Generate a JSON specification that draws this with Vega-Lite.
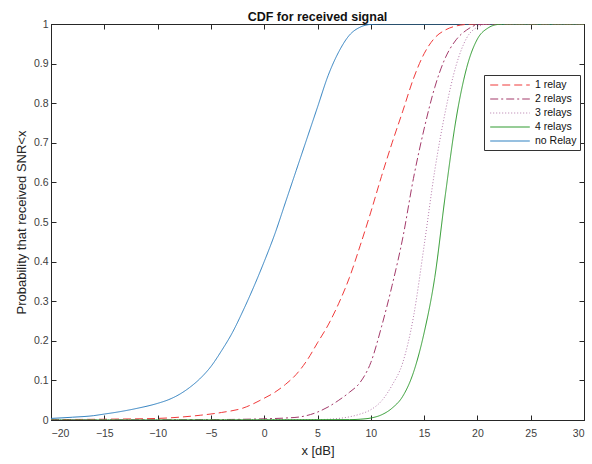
{
  "$schema": "https://vega.github.io/schema/vega-lite/v6.json",
  "width": 533,
  "height": 396,
  "autosize": {"type": "none"},
  "padding": {"left": 51, "top": 24, "right": 8, "bottom": 44},
  "background": "white",
  "title": {"text": "CDF for received signal", "fontSize": 12.5, "fontWeight": "bold", "font": "Liberation Sans", "color": "#111111", "offset": -4},
  "config": {
    "view": {"stroke": "#262626", "strokeWidth": 1},
    "axis": {"labelFont": "Liberation Sans", "titleFont": "Liberation Sans", "labelFontSize": 10.5, "titleFontSize": 13, "titleFontWeight": "normal", "labelColor": "#404040", "titleColor": "#262626", "domainColor": "#262626", "tickColor": "#262626", "grid": false}
  },
  "data": {"values": [
    {"s": "no Relay", "x": -20, "p": 0.004}, {"s": "no Relay", "x": -18, "p": 0.007}, {"s": "no Relay", "x": -16, "p": 0.011}, {"s": "no Relay", "x": -15, "p": 0.015}, {"s": "no Relay", "x": -14, "p": 0.019}, {"s": "no Relay", "x": -12, "p": 0.029}, {"s": "no Relay", "x": -10, "p": 0.042}, {"s": "no Relay", "x": -9, "p": 0.051}, {"s": "no Relay", "x": -8, "p": 0.064}, {"s": "no Relay", "x": -7, "p": 0.082}, {"s": "no Relay", "x": -6, "p": 0.105}, {"s": "no Relay", "x": -5, "p": 0.135}, {"s": "no Relay", "x": -4, "p": 0.175}, {"s": "no Relay", "x": -3, "p": 0.22}, {"s": "no Relay", "x": -2, "p": 0.275}, {"s": "no Relay", "x": -1, "p": 0.335}, {"s": "no Relay", "x": 0, "p": 0.4}, {"s": "no Relay", "x": 1, "p": 0.47}, {"s": "no Relay", "x": 2, "p": 0.55}, {"s": "no Relay", "x": 3, "p": 0.63}, {"s": "no Relay", "x": 4, "p": 0.71}, {"s": "no Relay", "x": 5, "p": 0.79}, {"s": "no Relay", "x": 6, "p": 0.87}, {"s": "no Relay", "x": 7, "p": 0.93}, {"s": "no Relay", "x": 8, "p": 0.972}, {"s": "no Relay", "x": 9, "p": 0.992}, {"s": "no Relay", "x": 10, "p": 0.999}, {"s": "no Relay", "x": 11, "p": 1}, {"s": "no Relay", "x": 30, "p": 1},
    {"s": "1 relay", "x": -20, "p": 0.001}, {"s": "1 relay", "x": -15, "p": 0.002}, {"s": "1 relay", "x": -10, "p": 0.004}, {"s": "1 relay", "x": -8, "p": 0.007}, {"s": "1 relay", "x": -6, "p": 0.012}, {"s": "1 relay", "x": -4, "p": 0.019}, {"s": "1 relay", "x": -2, "p": 0.03}, {"s": "1 relay", "x": 0, "p": 0.055}, {"s": "1 relay", "x": 1, "p": 0.07}, {"s": "1 relay", "x": 2, "p": 0.09}, {"s": "1 relay", "x": 3, "p": 0.115}, {"s": "1 relay", "x": 4, "p": 0.15}, {"s": "1 relay", "x": 5, "p": 0.195}, {"s": "1 relay", "x": 6, "p": 0.24}, {"s": "1 relay", "x": 7, "p": 0.295}, {"s": "1 relay", "x": 8, "p": 0.36}, {"s": "1 relay", "x": 9, "p": 0.44}, {"s": "1 relay", "x": 10, "p": 0.525}, {"s": "1 relay", "x": 11, "p": 0.615}, {"s": "1 relay", "x": 12, "p": 0.7}, {"s": "1 relay", "x": 13, "p": 0.78}, {"s": "1 relay", "x": 14, "p": 0.862}, {"s": "1 relay", "x": 15, "p": 0.925}, {"s": "1 relay", "x": 16, "p": 0.965}, {"s": "1 relay", "x": 17, "p": 0.985}, {"s": "1 relay", "x": 18, "p": 0.995}, {"s": "1 relay", "x": 19, "p": 0.999}, {"s": "1 relay", "x": 20, "p": 1}, {"s": "1 relay", "x": 30, "p": 1},
    {"s": "2 relays", "x": -20, "p": 0}, {"s": "2 relays", "x": -10, "p": 0.0005}, {"s": "2 relays", "x": -5, "p": 0.001}, {"s": "2 relays", "x": 0, "p": 0.003}, {"s": "2 relays", "x": 2, "p": 0.005}, {"s": "2 relays", "x": 3.4, "p": 0.008}, {"s": "2 relays", "x": 5, "p": 0.02}, {"s": "2 relays", "x": 6, "p": 0.033}, {"s": "2 relays", "x": 7, "p": 0.05}, {"s": "2 relays", "x": 8, "p": 0.07}, {"s": "2 relays", "x": 9, "p": 0.095}, {"s": "2 relays", "x": 10, "p": 0.145}, {"s": "2 relays", "x": 11, "p": 0.235}, {"s": "2 relays", "x": 12, "p": 0.34}, {"s": "2 relays", "x": 13, "p": 0.46}, {"s": "2 relays", "x": 14, "p": 0.61}, {"s": "2 relays", "x": 15, "p": 0.735}, {"s": "2 relays", "x": 16, "p": 0.84}, {"s": "2 relays", "x": 17, "p": 0.915}, {"s": "2 relays", "x": 18, "p": 0.96}, {"s": "2 relays", "x": 19, "p": 0.985}, {"s": "2 relays", "x": 20, "p": 0.998}, {"s": "2 relays", "x": 21, "p": 1}, {"s": "2 relays", "x": 30, "p": 1},
    {"s": "3 relays", "x": -20, "p": 0}, {"s": "3 relays", "x": 5, "p": 0.001}, {"s": "3 relays", "x": 7, "p": 0.004}, {"s": "3 relays", "x": 8, "p": 0.008}, {"s": "3 relays", "x": 9, "p": 0.015}, {"s": "3 relays", "x": 10, "p": 0.026}, {"s": "3 relays", "x": 11, "p": 0.048}, {"s": "3 relays", "x": 12, "p": 0.088}, {"s": "3 relays", "x": 13, "p": 0.145}, {"s": "3 relays", "x": 14, "p": 0.26}, {"s": "3 relays", "x": 15, "p": 0.44}, {"s": "3 relays", "x": 16, "p": 0.63}, {"s": "3 relays", "x": 17, "p": 0.78}, {"s": "3 relays", "x": 18, "p": 0.895}, {"s": "3 relays", "x": 19, "p": 0.965}, {"s": "3 relays", "x": 20, "p": 0.992}, {"s": "3 relays", "x": 21, "p": 1}, {"s": "3 relays", "x": 30, "p": 1},
    {"s": "4 relays", "x": -20, "p": 0}, {"s": "4 relays", "x": 8, "p": 0.001}, {"s": "4 relays", "x": 9, "p": 0.002}, {"s": "4 relays", "x": 10, "p": 0.005}, {"s": "4 relays", "x": 11, "p": 0.013}, {"s": "4 relays", "x": 12, "p": 0.03}, {"s": "4 relays", "x": 13, "p": 0.06}, {"s": "4 relays", "x": 14, "p": 0.12}, {"s": "4 relays", "x": 15, "p": 0.22}, {"s": "4 relays", "x": 16, "p": 0.36}, {"s": "4 relays", "x": 17, "p": 0.57}, {"s": "4 relays", "x": 18, "p": 0.76}, {"s": "4 relays", "x": 19, "p": 0.89}, {"s": "4 relays", "x": 20, "p": 0.962}, {"s": "4 relays", "x": 21, "p": 0.99}, {"s": "4 relays", "x": 22, "p": 0.999}, {"s": "4 relays", "x": 23, "p": 1}, {"s": "4 relays", "x": 30, "p": 1}
  ]},
  "layer": [
    {
      "mark": {"type": "line", "strokeWidth": 1, "interpolate": "monotone", "clip": true},
      "encoding": {
        "x": {"field": "x", "type": "quantitative", "scale": {"domain": [-20, 30], "nice": false, "zero": false},
          "axis": {"title": "x [dB]", "values": [-20, -15, -10, -5, 0, 5, 10, 15, 20, 25, 30], "tickSize": -5, "labelPadding": 13, "titlePadding": 6, "format": "d"}},
        "y": {"field": "p", "type": "quantitative", "scale": {"domain": [0, 1], "nice": false},
          "axis": {"title": "Probability that received SNR<x", "values": [0, 0.1, 0.2, 0.3, 0.4, 0.5, 0.6, 0.7, 0.8, 0.9, 1], "format": "~g", "tickSize": -5, "labelPadding": 8, "titlePadding": 5}},
        "color": {"field": "s", "type": "nominal",
          "scale": {"domain": ["1 relay", "2 relays", "3 relays", "4 relays", "no Relay"], "range": ["#f03a3a", "#a33a6a", "#b57aaa", "#2e9a2e", "#2f80c0"]},
          "legend": {"title": null, "orient": "none", "legendX": 433, "legendY": 51, "symbolType": "M-3.3,0H3.3", "symbolSize": 144, "symbolStrokeWidth": 1.2, "symbolOffset": 16, "labelFont": "Liberation Sans", "labelFontSize": 10.5, "labelColor": "#111111", "labelOffset": 18, "rowPadding": 1, "padding": 3, "strokeColor": "#333333", "fillColor": "white", "cornerRadius": 0}},
        "strokeDash": {"field": "s", "type": "nominal",
          "scale": {"domain": ["1 relay", "2 relays", "3 relays", "4 relays", "no Relay"], "range": [[8, 4], [8, 3, 2, 3], [1, 2], [1, 0], [1, 0]]},
          "legend": null}
      }
    },
    {
      "mark": {"type": "point", "opacity": 0},
      "encoding": {
        "x": {"field": "x", "type": "quantitative", "axis": {"orient": "top", "labels": false, "title": null, "values": [-20, -15, -10, -5, 0, 5, 10, 15, 20, 25, 30], "tickSize": -5}},
        "y": {"field": "p", "type": "quantitative", "axis": {"orient": "right", "labels": false, "title": null, "values": [0, 0.1, 0.2, 0.3, 0.4, 0.5, 0.6, 0.7, 0.8, 0.9, 1], "tickSize": -5}}
      }
    }
  ],
  "resolve": {"axis": {"x": "independent", "y": "independent"}}
}
